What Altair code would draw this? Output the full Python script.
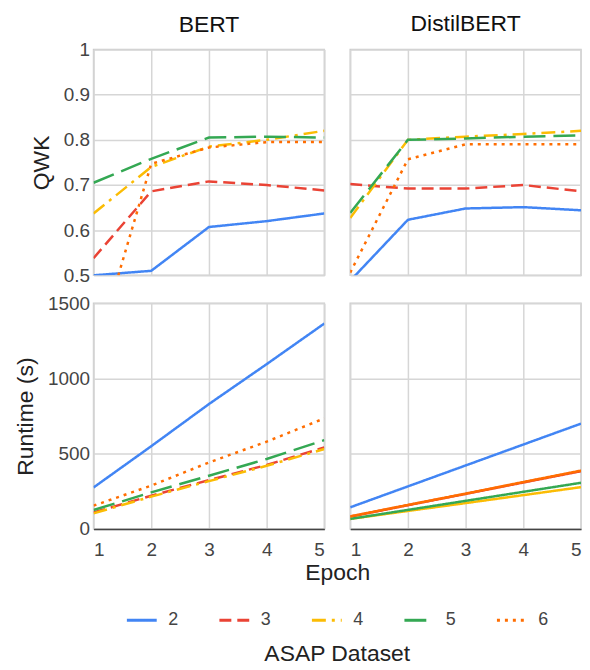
import altair as alt
import pandas as pd

EPOCHS = [1, 2, 3, 4, 5]
SERIES = ["2", "3", "4", "5", "6"]
COLORS = ["#4285F4", "#EA4335", "#FBBC04", "#34A853", "#FF6D01"]
DASHES = [[1, 0], [12, 6], [14, 6, 3, 6], [22, 8], [3, 5]]

# QWK, BERT (one list per series 2..6)
BERT_QWK = [
    [0.500, 0.510, 0.607, 0.620, 0.637],
    [0.538, 0.686, 0.708, 0.700, 0.688],
    [0.637, 0.740, 0.785, 0.800, 0.820],
    [0.705, 0.758, 0.805, 0.807, 0.805],
    [0.314, 0.747, 0.783, 0.795, 0.795],
]
# QWK, DistilBERT
DISTIL_QWK = [
    [0.488, 0.623, 0.648, 0.651, 0.644],
    [0.702, 0.692, 0.692, 0.700, 0.686],
    [0.627, 0.800, 0.807, 0.813, 0.820],
    [0.638, 0.800, 0.803, 0.807, 0.810],
    [0.506, 0.757, 0.790, 0.790, 0.790],
]
# Runtime (s), BERT
BERT_RT = [
    [276, 550, 830, 1095, 1365],
    [110, 221, 325, 425, 542],
    [104, 215, 318, 420, 531],
    [126, 243, 354, 465, 590],
    [155, 288, 442, 580, 735],
]
# Runtime (s), DistilBERT
DISTIL_RT = [
    [144, 283, 422, 561, 700],
    [82, 158, 233, 309, 384],
    [67, 120, 172, 225, 278],
    [67, 127, 187, 247, 307],
    [84, 160, 235, 312, 388],
]

QWK_TICKS = [0.5, 0.6, 0.7, 0.8, 0.9, 1.0]
RT_TICKS = [0, 500, 1000, 1500]

FONT = "Liberation Sans"
W, H = 232, 227
GAP = 26

LEGEND = alt.Legend(
    title="ASAP Dataset", orient="none", legendX=32, legendY=557,
    direction="horizontal", symbolType="stroke", symbolStrokeWidth=3,
    symbolSize=900, labelFont=FONT, labelFontSize=18, labelColor="#444444",
    labelOffset=10, columnPadding=34, titleOrient="bottom", titleAnchor="middle",
    titleFont=FONT, titleFontSize=23, titleFontWeight="normal",
    titleColor="#222222", titlePadding=14,
)


def frame(values):
    rows = []
    for s, ys in zip(SERIES, values):
        for e, y in zip(EPOCHS, ys):
            rows.append({"epoch": e, "value": y, "series": s})
    return pd.DataFrame(rows)


def panel(values, ydom, yticks, yfmt, bottom, left, title=None, toff=12,
          dashed=True, ytitle=None, xtitle=None):
    if bottom:
        xkw = dict(values=EPOCHS, grid=True, labels=True, ticks=False,
                   domain=True, domainColor="#444444", domainWidth=1.5,
                   labelPadding=12, labelFontSize=19, labelColor="#444444",
                   format="d")
        if xtitle:
            xkw.update(title=xtitle, titleX=W + GAP / 2, titleFontSize=23,
                       titleFontWeight="normal", titleColor="#222222",
                       titlePadding=2)
        else:
            xkw.update(title=None)
        xaxis = alt.Axis(**xkw)
    else:
        xaxis = alt.Axis(values=EPOCHS, grid=True, labels=False, ticks=False,
                         domain=False, title=None)
    if left:
        yaxis = alt.Axis(values=yticks, grid=True, labels=True, ticks=False,
                         domain=False, labelPadding=4, labelFontSize=19,
                         labelColor="#444444", format=yfmt, title=ytitle,
                         titleFontSize=23, titleFontWeight="normal",
                         titleColor="#222222", titlePadding=10)
    else:
        yaxis = alt.Axis(values=yticks, grid=True, labels=False, ticks=False,
                         domain=False, title=None)

    enc = dict(
        x=alt.X("epoch:Q", scale=alt.Scale(domain=[1, 5], nice=False), axis=xaxis),
        y=alt.Y("value:Q", scale=alt.Scale(domain=ydom, nice=False, zero=False), axis=yaxis),
        color=alt.Color("series:N", scale=alt.Scale(domain=SERIES, range=COLORS),
                        legend=LEGEND),
        order=alt.Order("epoch:Q"),
    )
    if dashed:
        enc["strokeDash"] = alt.StrokeDash(
            "series:N", scale=alt.Scale(domain=SERIES, range=DASHES), legend=LEGEND)
    else:
        enc["strokeDash"] = alt.value([1, 0])

    ch = alt.Chart(frame(values)).mark_line(strokeWidth=2.5, clip=True).encode(**enc)
    props = dict(width=W, height=H)
    if title:
        props["title"] = alt.Title(title, fontSize=23, fontWeight="normal",
                                   color="#111111", offset=toff, font=FONT)
    return ch.properties(**props)


p1 = panel(BERT_QWK, [0.5, 1.0], QWK_TICKS, "~g", False, True, title="BERT",
           toff=4, ytitle="QWK")
p2 = panel(DISTIL_QWK, [0.5, 1.0], QWK_TICKS, "~g", False, False,
           title="DistilBERT", toff=14)
p3 = panel(BERT_RT, [0, 1500], RT_TICKS, "d", True, True, ytitle="Runtime (s)",
           xtitle="Epoch")
p4 = panel(DISTIL_RT, [0, 1500], RT_TICKS, "d", True, False, dashed=False)

chart = alt.concat(p1, p2, p3, p4, columns=2, bounds="flush",
                   spacing={"row": 28, "column": GAP}).properties(
    padding={"left": 5, "top": 2, "right": 0, "bottom": 0}
).configure_view(
    stroke="#cccccc", strokeWidth=1.5
).configure_axis(
    gridColor="#d6d6d6", gridWidth=1.5, labelFont=FONT, titleFont=FONT
).configure_title(font=FONT)

chart.save("out.html", embed_options={"renderer": "svg", "actions": False})
